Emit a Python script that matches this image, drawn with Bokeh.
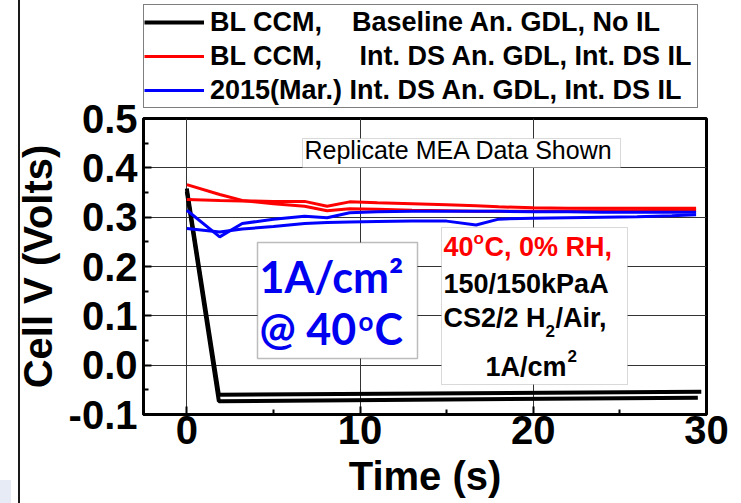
from bokeh.plotting import figure
from bokeh.layouts import column
from bokeh.models import (FixedTicker, NumeralTickFormatter, Legend, LegendItem,
                          Label, BoxAnnotation, Range1d)
from bokeh.embed import file_html
from bokeh.resources import INLINE

# ---- data -------------------------------------------------------------
# shared time base (s) for the two repeat runs of each intermediate-DS build
time_s = [0, 1.9, 3.2, 5, 6.8, 8.1, 9.4, 11, 13, 15, 16.7, 18, 20, 22, 24, 26, 28, 29.4]

# BL CCM, Int. DS An. GDL, Int. DS IL (two MEAs)
red_a = [0.366, 0.346, 0.334, 0.327, 0.322, 0.313, 0.317, 0.316, 0.314, 0.313,
         0.312, 0.312, 0.312, 0.312, 0.313, 0.313, 0.314, 0.314]
red_b = [0.336, 0.334, 0.333, 0.332, 0.332, 0.322, 0.331, 0.329, 0.327, 0.325,
         0.323, 0.321, 0.319, 0.318, 0.318, 0.318, 0.318, 0.318]

# 2015(Mar.) Int. DS An. GDL, Int. DS IL (two MEAs)
blue_a = [0.314, 0.260, 0.287, 0.296, 0.302, 0.299, 0.309, 0.311, 0.312, 0.312,
          0.312, 0.312, 0.311, 0.311, 0.310, 0.310, 0.310, 0.310]
blue_b = [0.277, 0.270, 0.276, 0.281, 0.287, 0.289, 0.290, 0.291, 0.292, 0.292,
          0.284, 0.296, 0.298, 0.299, 0.300, 0.301, 0.303, 0.305]

# BL CCM, Baseline An. GDL, No IL (two MEAs) - collapse right after load step
black_a_time = [0, 1.85, 29.7]
black_a = [0.358, -0.060, -0.054]
black_b_time = [0, 1.85, 29.5]
black_b = [0.352, -0.073, -0.066]

x_ticks = [0, 10, 20, 30]
x_minor = [5, 15, 25]
y_ticks = [-0.1, 0.0, 0.1, 0.2, 0.3, 0.4, 0.5]
y_minor = [-0.05, 0.05, 0.15, 0.25, 0.35, 0.45]

legend_labels = [
    "BL CCM,\u00a0\u00a0\u00a0 Baseline An. GDL, No IL",
    "BL CCM,\u00a0\u00a0\u00a0\u00a0 Int. DS An. GDL, Int. DS IL",
    "2015(Mar.) Int. DS An. GDL, Int. DS IL",
]

# ---- layout (page pixels) --------------------------------------------
W, H = 741, 503
TOP_H = 118                           # legend band above the chart
OVERLAP = 20                          # chart canvas reaches up under the band
FL, FR, FT, FB = 143, 706, 118, 414   # plot frame edges on the page
BOLD = "Liberation Sans"

# ---- legend band -----------------------------------------------------
band = figure(width=W, height=TOP_H, x_axis_type=None, y_axis_type=None,
              output_backend="svg", toolbar_location=None,
              min_border=0, outline_line_color=None)
band.background_fill_alpha = 0
band.border_fill_alpha = 0
band.grid.visible = False
key_black = band.line(black_a_time, black_a, line_color="black", line_width=4, visible=False)
key_red = band.line(time_s, red_a, line_color="#ff0000", line_width=3, visible=False)
key_blue = band.line(time_s, blue_a, line_color="#0000ff", line_width=3, visible=False)

legend = Legend(
    items=[LegendItem(label=legend_labels[0], renderers=[key_black]),
           LegendItem(label=legend_labels[1], renderers=[key_red]),
           LegendItem(label=legend_labels[2], renderers=[key_blue])],
    location=(0, 10),
    label_text_font=BOLD, label_text_font_style="bold", label_text_font_size="27px",
    label_text_color="black",
    glyph_width=60, glyph_height=34, label_height=34, label_standoff=6,
    label_width=487, padding=0, spacing=0, margin=0,
    border_line_color="black", border_line_width=1,
    background_fill_color="white", background_fill_alpha=1,
    inactive_fill_alpha=0,
)
band.add_layout(legend)

# ---- main chart ------------------------------------------------------
p = figure(width=W, height=H - TOP_H + OVERLAP,
           x_range=Range1d(-2.5, 30), y_range=Range1d(-0.1, 0.5),
           output_backend="svg", toolbar_location=None,
           min_border_left=FL, min_border_right=W - FR,
           min_border_top=OVERLAP, min_border_bottom=H - FB)
p.margin = (-OVERLAP, 0, 0, 0)
p.styles = {"margin-top": f"-{OVERLAP}px"}
p.background_fill_color = "white"
p.border_fill_alpha = 0
p.outline_line_color = "black"
p.outline_line_width = 3

# axes
p.xaxis.ticker = FixedTicker(ticks=x_ticks, minor_ticks=x_minor)
p.yaxis.ticker = FixedTicker(ticks=y_ticks, minor_ticks=y_minor)
p.yaxis.formatter = NumeralTickFormatter(format="0.0")
for ax in (p.xaxis[0], p.yaxis[0]):
    ax.axis_line_width = 3
    ax.axis_line_color = "black"
    ax.major_tick_in = 8
    ax.major_tick_out = 0
    ax.minor_tick_in = 5
    ax.minor_tick_out = 0
    ax.major_tick_line_width = 2
    ax.minor_tick_line_width = 2
    ax.major_label_text_font = BOLD
    ax.major_label_text_font_style = "bold"
    ax.major_label_text_font_size = "40px"
    ax.major_label_text_color = "black"
    ax.axis_label_text_font = BOLD
    ax.axis_label_text_font_style = "bold"
    ax.axis_label_text_font_size = "40px"
    ax.axis_label_text_color = "black"
p.xaxis.axis_label = "Time (s)"
p.yaxis.axis_label = "Cell V (Volts)"
p.xaxis.major_label_standoff = 1
p.xaxis.axis_label_standoff = 7
p.yaxis.major_label_standoff = 6
p.yaxis.axis_label_standoff = 6

p.grid.grid_line_color = "#333333"
p.grid.grid_line_width = 1

# data lines
p.line(black_a_time, black_a, line_color="black", line_width=4)
p.line(black_b_time, black_b, line_color="black", line_width=4)
p.line(time_s, red_a, line_color="#ff0000", line_width=3)
p.line(time_s, red_b, line_color="#ff0000", line_width=3)
p.line(time_s, blue_a, line_color="#0000ff", line_width=3)
p.line(time_s, blue_b, line_color="#0000ff", line_width=3)


# ---- helpers for annotations placed in page pixels -------------------
def box(left, top, right, bottom, line_color, line_width=1):
    p.add_layout(BoxAnnotation(
        left=left - FL, right=right - FL, top=FB - top, bottom=FB - bottom,
        left_units="screen", right_units="screen",
        top_units="screen", bottom_units="screen",
        fill_color="white", fill_alpha=1,
        line_color=line_color, line_width=line_width))


def note(text, cx, baseline, size, color="black", style="bold", font=BOLD):
    # the label's alphabetic anchor sits ~0.37em under the glyph baseline
    p.add_layout(Label(
        x=cx - FL, y=FB - (baseline - 0.37 * size), x_units="screen", y_units="screen",
        text=text, text_font=font, text_font_size=f"{size}px",
        text_font_style=style, text_color=color, text_baseline="alphabetic"))


# "Replicate MEA Data Shown"
box(302, 138, 620, 167, "#808080")
note("Replicate MEA Data Shown", 304, 159, 25, style="normal")

# load / temperature callout
BLUE_TXT = "#0000f0"
box(257, 242, 417, 358, "#222222", 1.5)
note("1A/cm\u00b2", 259, 292, 43, color=BLUE_TXT, font="Lato")
note("@ 40", 259, 344, 43, color=BLUE_TXT, font="Lato")
note("o", 358, 330, 26, color=BLUE_TXT, font="Lato")
note("C", 374, 344, 43, color=BLUE_TXT, font="Lato")

# operating conditions callout
box(441, 227, 627, 384, "#808080")
note("40", 443, 256, 27, color="#ff0000")
note("o", 473, 244, 17, color="#ff0000")
note("C, 0% RH,", 484, 256, 27, color="#ff0000")
note("150/150kPaA", 443, 293, 27)
note("CS2/2 H", 443, 327, 27)
note("2", 545, 337, 17)
note("/Air,", 555, 327, 27)
note("1A/cm", 485, 376, 27)
note("2", 567, 362, 17)

page = column(band, p, spacing=0)
# page backdrop: slide edge rule at the far left and a small corner swatch
page.styles = {
    "background": "linear-gradient(#e6ebf5, #e6ebf5) 0px 480px / 11px 23px no-repeat, "
                  "linear-gradient(#1a1a1a, #1a1a1a) 18px 0px / 2px 100% no-repeat, "
                  "#ffffff",
}

open("out.html", "w").write(file_html(page, INLINE))
